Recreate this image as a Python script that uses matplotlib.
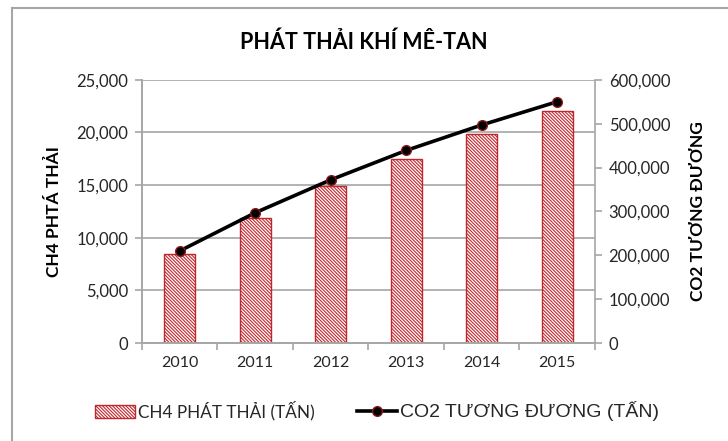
import numpy as np
import matplotlib
matplotlib.use("Agg")
import matplotlib.pyplot as plt
from matplotlib.lines import Line2D
from matplotlib.ticker import FuncFormatter

# data
years = ["2010", "2011", "2012", "2013", "2014", "2015"]
ch4 = [8500, 11900, 14900, 17500, 19900, 22000]
co2 = [210000, 297000, 372000, 439000, 497000, 550000]

title = "PHÁT THẢI KHÍ MÊ-TAN"
left_label = "CH4 PHTÁ THẢI"
right_label = "CO2 TƯƠNG ĐƯƠNG"
bar_name = "CH4 PHÁT THẢI (TẤN)"
line_name = "CO2 TƯƠNG ĐƯƠNG (TẤN)"

grey = "#a6a6a6"
red = "#c0272d"
txt = "#262626"

plt.rcParams['font.family'] = ['Lato', 'DejaVu Sans']
plt.rcParams['hatch.linewidth'] = 0.8

fig = plt.figure(figsize=(7.28, 4.41), dpi=100)
ax = fig.add_axes([0.195, 0.222, 0.622, 0.597])
ax2 = ax.twinx()

x = np.arange(len(years))
bars = ax.bar(x, ch4, width=0.41, color="white", edgecolor=red, hatch="\\" * 10,
              linewidth=1.0, zorder=2)
ln, = ax2.plot(x, co2, color="black", linewidth=2.6, marker="o", markersize=7,
               markerfacecolor="black", markeredgecolor="#8b1a1a", markeredgewidth=1.0,
               zorder=3)

ax.set_xlim(-0.5, len(years) - 0.5)
ax.set_ylim(0, 25000)
ax2.set_ylim(0, 600000)
ax.set_yticks(np.arange(0, 25001, 5000))
ax2.set_yticks(np.arange(0, 600001, 100000))
fmt = FuncFormatter(lambda v, p: "{:,.0f}".format(v))
ax.yaxis.set_major_formatter(fmt)
ax2.yaxis.set_major_formatter(fmt)

ax.set_xticks(x)
ax.set_xticklabels(years)
ax.set_xticks(np.arange(-0.5, len(years)), minor=True)
ax.tick_params(axis="x", which="major", length=0, labelsize=11.5, colors=txt, pad=9)
ax.tick_params(axis="x", which="minor", length=5, color=grey, width=1.2, direction="out")
ax.tick_params(axis="y", length=5, color=grey, width=1.2, labelsize=12, colors=txt, pad=5)
ax2.tick_params(axis="y", length=5, color=grey, width=1.2, labelsize=12, colors=txt, pad=5)

ax.grid(axis="y", color=grey, linewidth=1.2, zorder=0)
ax.set_axisbelow(True)
for a in (ax, ax2):
    for s in a.spines.values():
        s.set_color(grey)
        s.set_linewidth(1.2)
    a.spines["top"].set_visible(False)
ax.spines["right"].set_visible(False)

ax.set_ylabel(left_label, fontsize=12.5, fontweight="bold", color="black", labelpad=10)
ax2.set_ylabel(right_label, fontsize=12.5, fontweight="bold", color="black", labelpad=14)

fig.text(0.5, 0.905, title, ha="center", va="center", fontsize=15.5,
         fontweight="bold", color="black")

leg = fig.legend([bars, ln], [bar_name, line_name], loc="center",
                 bbox_to_anchor=(0.518, 0.068), ncol=2, frameon=False,
                 prop={"size": 12},
                 handlelength=2.4, handleheight=0.75, handletextpad=0.2,
                 columnspacing=2.5)
texts = leg.get_texts()
texts[0].set_color(txt)
texts[0].set_fontsize(12.3)
texts[1].set_color(txt)
texts[1].set_family("Liberation Sans")
texts[1].set_fontsize(14)

# outer frame of the chart
fig.add_artist(Line2D([12 / 728, 12 / 728], [0, 1 - 8 / 441], transform=fig.transFigure,
                      color=grey, linewidth=1.5))
fig.add_artist(Line2D([12 / 728, 1], [1 - 8 / 441, 1 - 8 / 441], transform=fig.transFigure,
                      color=grey, linewidth=1.5))

fig.savefig("out.png", dpi=100)
